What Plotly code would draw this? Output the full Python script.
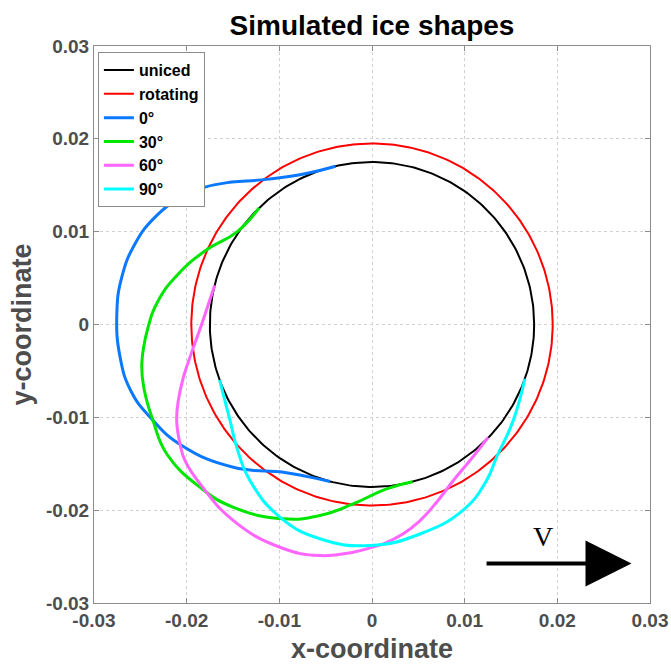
import numpy as np
import plotly.graph_objects as go

# ---- data ----
uniced_radius = 0.0175
rotating_radius = 0.0195

# ice-shape outlines: polar angle (deg) and radius
ang_0 = [103, 114, 127.4, 134.6, 140.6, 146.2, 153.7, 161.2, 169.3, 177.6, 187.4, 195.2, 202.6, 212.4,
         225.8, 239, 247, 255]
rad_0 = [0.0175, 0.01778, 0.01961, 0.02155, 0.02331, 0.02469, 0.02611, 0.02701, 0.02748, 0.02756,
         0.02741, 0.02700, 0.02595, 0.02432, 0.02146, 0.01857, 0.0178, 0.0175]

ang_30 = [134.1, 145.7, 155.6, 165.4, 173.6, 181, 189.7, 196.1, 203.7, 212.2, 223.4, 232.8, 245.4,
          254.7, 264, 275.1, 284.5]
rad_30 = [0.0175, 0.01767, 0.01955, 0.0216, 0.0232, 0.0242, 0.0252, 0.02557, 0.0258, 0.02617, 0.02553,
          0.02473, 0.02302, 0.02133, 0.01943, 0.01777, 0.0175]

ang_60 = [166, 179.8, 188.7, 195.6, 201.4, 206.1, 211.8, 216, 222.8, 234.7, 247.5, 257.3, 265.3, 269.5,
          273, 278.5, 283.8, 290, 297.6, 305.8, 315.9]
rad_60 = [0.0175, 0.01837, 0.01968, 0.02113, 0.02245, 0.02347, 0.02438, 0.02494, 0.02528, 0.02588,
          0.02597, 0.02552, 0.02461, 0.02406, 0.02366, 0.0228, 0.02175, 0.02038, 0.01896, 0.01807,
          0.01746]

ang_90 = [200, 214, 222.2, 231.9, 244.5, 256.3, 269.5, 282.9, 296.3, 306.3, 313.2, 325.8, 340.5]
rad_90 = [0.0175, 0.01848, 0.0197, 0.02135, 0.02301, 0.02376, 0.02381, 0.02315, 0.02227, 0.02087,
          0.01963, 0.01842, 0.0175]

tick_vals = [-0.03, -0.02, -0.01, 0, 0.01, 0.02, 0.03]
tick_text = ["-0.03", "-0.02", "-0.01", "0", "0.01", "0.02", "0.03"]

arrow_start = (0.0122, -0.02575)
arrow_end = (0.0280, -0.02575)
v_label_pos = (0.0184, -0.0228)

FONT = "Liberation Sans, Arial, sans-serif"


def polar_xy(ang, rad):
    a = np.radians(np.asarray(ang, dtype=float))
    r = np.asarray(rad, dtype=float)
    return r * np.cos(a), r * np.sin(a)


def circle_xy(radius):
    t = np.linspace(0, 2 * np.pi, 361)
    return radius * np.cos(t), radius * np.sin(t)


fig = go.Figure()

x, y = circle_xy(uniced_radius)
fig.add_trace(go.Scatter(x=x, y=y, mode="lines", name="uniced", line=dict(color="black", width=2)))
x, y = circle_xy(rotating_radius)
fig.add_trace(go.Scatter(x=x, y=y, mode="lines", name="rotating", line=dict(color="#ff0000", width=2)))

series = [
    ("0°", ang_0, rad_0, "#0a78ff"),
    ("30°", ang_30, rad_30, "#00e600"),
    ("60°", ang_60, rad_60, "#ff66ff"),
    ("90°", ang_90, rad_90, "#00ffff"),
]
for name, a, r, c in series:
    x, y = polar_xy(a, r)
    fig.add_trace(go.Scatter(x=x, y=y, mode="lines", name=name,
                             line=dict(color=c, width=3, shape="spline", smoothing=1.3)))

fig.add_annotation(x=arrow_end[0], y=arrow_end[1], ax=arrow_start[0], ay=arrow_start[1],
                   xref="x", yref="y", axref="x", ayref="y", text="", showarrow=True,
                   arrowhead=2, arrowsize=2.3, arrowwidth=4, arrowcolor="black")
fig.add_annotation(x=v_label_pos[0], y=v_label_pos[1], xref="x", yref="y", text="V",
                   showarrow=False, font=dict(family="Liberation Serif, Times New Roman, serif",
                                              size=28, color="black"))

axis_common = dict(
    range=[-0.03, 0.03], tickvals=tick_vals, ticktext=tick_text, automargin=False,
    showgrid=True, gridcolor="#d0d0d0", griddash="dot", gridwidth=1,
    zeroline=False, showline=True, linecolor="#8c8c8c", linewidth=1, mirror="ticks",
    ticks="inside", ticklen=5, tickcolor="#8c8c8c",
    tickfont=dict(family=FONT, size=19, color="#4d4d4d", weight="bold"),
)

fig.update_layout(
    width=671, height=666,
    margin=dict(l=94, r=21, t=46, b=63, autoexpand=False),
    paper_bgcolor="white", plot_bgcolor="white",
    title=dict(text="<b>Simulated ice shapes</b>", x=0.5544, xanchor="center", y=0.9625, yanchor="middle",
               font=dict(family=FONT, size=28, color="black")),
    xaxis=dict(axis_common, title=dict(text="<b>x-coordinate</b>", standoff=9,
                                        font=dict(family=FONT, size=27, color="#4d4d4d"))),
    yaxis=dict(axis_common, title=dict(text="<b>y-coordinate</b>", standoff=6,
                                        font=dict(family=FONT, size=27, color="#4d4d4d"))),
    showlegend=True,
    legend=dict(x=0.007, y=0.989, xanchor="left", yanchor="top", bgcolor="white",
                bordercolor="#8c8c8c", borderwidth=1, tracegroupgap=0,
                font=dict(family=FONT, size=16, color="black", weight="bold")),
)

fig.write_html("out.html", config={"displayModeBar": False},
               post_script="document.body.style.margin='0';document.body.style.overflow='hidden';")
